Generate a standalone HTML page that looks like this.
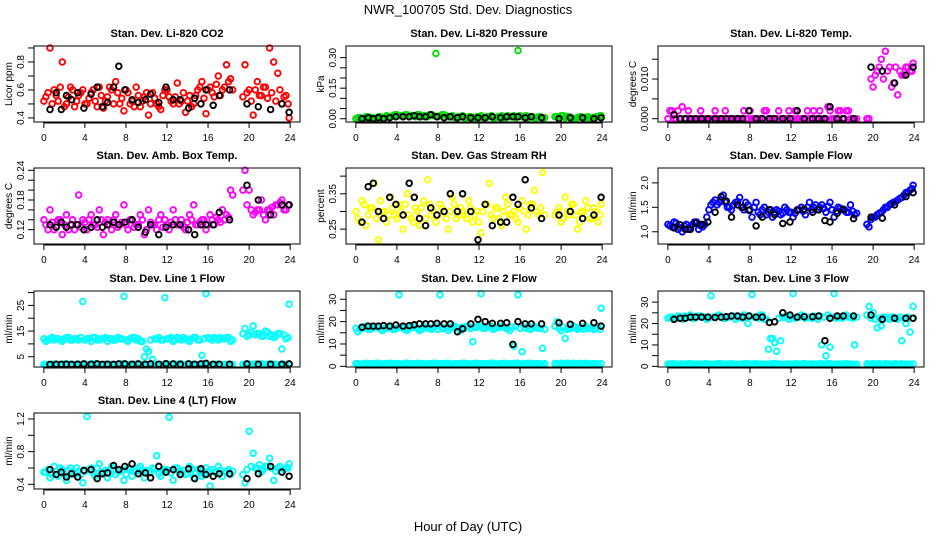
<!DOCTYPE html>
<html><head><meta charset="utf-8"><style>
html,body{margin:0;padding:0;background:#fff;}
svg{display:block;font-family:"Liberation Sans",sans-serif;}
</style></head><body>
<svg id="chart" width="936" height="540" viewBox="0 0 936 540">
<rect width="936" height="540" fill="#fff"/>
<text x="468" y="14" text-anchor="middle" font-size="13">NWR_100705  Std. Dev. Diagnostics</text>
<text x="468" y="531" text-anchor="middle" font-size="13">Hour of Day (UTC)</text>
</svg>
<script>
const hoursC = [0.2,0.6,1.0,1.4,1.8,2.2,2.6,3.0,3.4,3.8,4.2,4.6,5.0,5.4,5.8,6.2,6.6,7.0,7.4,7.8,8.2,8.6,9.0,9.4,9.8,10.2,10.6,11.0,11.4,11.8,12.2,12.6,13.0,13.4,13.8,14.2,14.6,15.0,15.4,15.8,16.2,16.6,17.0,17.4,17.8,18.2,19.6,20.0,20.4,20.8,21.2,21.6,22.0,22.4,22.8,23.2,23.6,23.9];
const hoursC2 = [0.0,0.4,0.8,1.2,1.6,2.0,2.4,2.8,3.2,3.6,4.0,4.4,4.8,5.2,5.6,6.0,6.4,6.8,7.2,7.6,8.0,8.4,8.8,9.2,9.6,10.0,10.4,10.8,11.2,11.6,12.0,12.4,12.8,13.2,13.6,14.0,14.4,14.8,15.2,15.6,16.0,16.4,16.8,17.2,17.6,18.0,18.4,19.4,19.8,20.2,20.6,21.0,21.4,21.8,22.2,22.6,23.0,23.4,23.8];
const hoursB = [0.6,1.2,1.7,2.2,2.7,3.3,3.9,4.6,5.2,5.7,6.2,6.8,7.3,7.9,8.6,9.2,9.9,10.4,11.2,11.9,12.6,13.3,14.1,14.7,15.3,15.8,16.5,17.1,18.1,19.8,20.9,22.1,23.2,23.9];
const xTicks = [0,4,8,12,16,20,24];

const co2Vals = [0.55,0.9,0.6,0.52,0.8,0.5,0.62,0.48,0.56,0.6,0.5,0.58,0.52,0.62,0.47,0.55,0.6,0.66,0.5,0.45,0.58,0.52,0.62,0.48,0.55,0.42,0.58,0.5,0.46,0.6,0.55,0.5,0.65,0.52,0.44,0.56,0.5,0.6,0.66,0.43,0.62,0.55,0.7,0.6,0.78,0.68,0.78,0.6,0.42,0.66,0.56,0.62,0.9,0.8,0.72,0.5,0.56,0.4];
const co2Vals2 = [0.52,0.58,0.5,0.56,0.62,0.48,0.55,0.6,0.52,0.58,0.5,0.54,0.6,0.48,0.56,0.52,0.62,0.5,0.58,0.54,0.6,0.5,0.48,0.56,0.52,0.58,0.5,0.54,0.48,0.56,0.6,0.52,0.55,0.5,0.58,0.52,0.48,0.56,0.62,0.54,0.6,0.58,0.64,0.56,0.62,0.66,0.6,0.55,0.58,0.52,0.6,0.56,0.62,0.54,0.58,0.52,0.6,0.55,0.5];
const co2Black = [0.46,0.58,0.46,0.56,0.53,0.58,0.47,0.57,0.62,0.48,0.51,0.62,0.77,0.6,0.53,0.51,0.53,0.57,0.51,0.62,0.53,0.53,0.47,0.54,0.5,0.6,0.49,0.56,0.6,0.5,0.48,0.46,0.5,0.44];

const presVals = [0.005,0.0,0.01,0.005,0.0,0.01,0.005,0.015,0.01,0.02,0.015,0.01,0.02,0.015,0.01,0.02,0.015,0.01,0.02,0.32,0.015,0.02,0.01,0.015,0.005,0.01,0.005,0.01,0.005,0.01,0.015,0.005,0.01,0.005,0.01,0.015,0.005,0.01,0.015,0.335,0.01,0.015,0.01,0.005,0.01,0.005,0.01,0.015,0.005,0.01,0.0,0.005,0.01,0.005,0.0,0.005,0.01,0.015];
const presVals2 = [0.0,0.005,0.0,0.01,0.005,0.0,0.01,0.005,0.01,0.015,0.02,0.015,0.02,0.01,0.015,0.02,0.01,0.015,0.02,0.015,0.01,0.02,0.015,0.01,0.005,0.01,0.015,0.005,0.01,0.005,0.01,0.005,0.01,0.015,0.005,0.01,0.005,0.015,0.01,0.005,0.015,0.01,0.005,0.01,0.005,0.01,0.005,0.01,0.005,0.015,0.01,0.005,0.0,0.01,0.005,0.01,0.005,0.01,0.015];
const presBlack = [0.0,0.005,0.0,0.005,0.0,0.005,0.01,0.01,0.01,0.015,0.01,0.01,0.02,0.01,0.005,0.01,0.005,0.01,0.005,0.005,0.005,0.01,0.005,0.01,0.01,0.01,0.005,0.01,0.005,0.0,0.005,0.005,0.0,0.005];

const licTempVals = [0.002,0.0,0.002,0.003,0.0,0.0,0.0,0.0,0.0,0.0,0.0,0.002,0.0,0.0,0.0,0.0,0.0,0.0,0.002,0.0,0.0,0.0,0.0,0.002,0.0,0.0,0.0,0.0,0.0,0.002,0.0,0.0,0.0,0.0,0.0,0.002,0.0,0.0,0.0,0.002,0.0,0.002,0.0,0.002,0.0,0.0,0.0,0.008,0.012,0.015,0.017,0.013,0.009,0.006,0.011,0.013,0.012,0.014];
const licTempVals2 = [0.0,0.002,0.0,0.0,0.0,0.002,0.0,0.0,0.002,0.0,0.0,0.0,0.0,0.0,0.002,0.0,0.0,0.0,0.0,0.0,0.002,0.0,0.0,0.0,0.002,0.0,0.0,0.002,0.0,0.0,0.0,0.002,0.0,0.0,0.002,0.0,0.0,0.002,0.0,0.003,0.0,0.0,0.002,0.0,0.002,0.0,0.0,0.0,0.01,0.011,0.013,0.01,0.012,0.008,0.013,0.012,0.011,0.013,0.012];
const licTempBlack = [0.001,0,0,0,0,0,0,0,0,0,0,0,0,0.002,0,0,0,0,0,0,0.002,0,0,0,0,0.003,0,0,0,0.013,0.012,0.009,0.011,0.013];

const ambVals = [0.13,0.16,0.12,0.14,0.11,0.15,0.13,0.12,0.19,0.14,0.12,0.15,0.13,0.16,0.11,0.14,0.12,0.15,0.13,0.17,0.12,0.14,0.13,0.15,0.11,0.16,0.13,0.12,0.15,0.14,0.12,0.16,0.13,0.14,0.12,0.15,0.17,0.13,0.14,0.12,0.15,0.13,0.14,0.16,0.15,0.2,0.24,0.2,0.15,0.16,0.18,0.14,0.16,0.15,0.17,0.18,0.16,0.17];
const ambVals2 = [0.14,0.12,0.135,0.125,0.14,0.13,0.12,0.14,0.13,0.125,0.135,0.14,0.13,0.125,0.14,0.135,0.13,0.14,0.125,0.135,0.13,0.14,0.125,0.13,0.14,0.12,0.135,0.13,0.14,0.125,0.13,0.135,0.14,0.13,0.125,0.135,0.14,0.13,0.135,0.14,0.13,0.14,0.145,0.135,0.14,0.145,0.19,0.2,0.17,0.16,0.155,0.16,0.15,0.16,0.165,0.17,0.175,0.16,0.17];
const ambBlack = [0.13,0.125,0.135,0.125,0.13,0.13,0.12,0.125,0.14,0.125,0.13,0.135,0.13,0.135,0.14,0.125,0.115,0.13,0.11,0.125,0.13,0.13,0.12,0.11,0.13,0.13,0.13,0.155,0.14,0.21,0.18,0.15,0.17,0.17];

const rhVals = [0.28,0.33,0.26,0.31,0.38,0.22,0.3,0.27,0.34,0.29,0.32,0.25,0.35,0.28,0.31,0.26,0.33,0.39,0.29,0.27,0.32,0.3,0.25,0.34,0.28,0.31,0.29,0.33,0.27,0.3,0.24,0.32,0.38,0.28,0.31,0.26,0.34,0.29,0.3,0.27,0.33,0.25,0.32,0.36,0.29,0.41,0.3,0.27,0.34,0.29,0.32,0.25,0.3,0.33,0.28,0.31,0.27,0.32];
const rhVals2 = [0.3,0.27,0.32,0.29,0.31,0.28,0.33,0.3,0.29,0.31,0.28,0.3,0.32,0.29,0.27,0.3,0.31,0.28,0.32,0.3,0.29,0.31,0.28,0.3,0.32,0.29,0.3,0.28,0.31,0.29,0.27,0.3,0.32,0.29,0.31,0.28,0.3,0.32,0.29,0.28,0.31,0.3,0.29,0.32,0.3,0.31,0.29,0.29,0.31,0.28,0.3,0.32,0.29,0.27,0.3,0.31,0.28,0.3,0.29];
const rhBlack = [0.27,0.37,0.38,0.3,0.28,0.34,0.32,0.29,0.38,0.34,0.28,0.26,0.31,0.29,0.3,0.35,0.3,0.35,0.3,0.22,0.32,0.26,0.27,0.27,0.34,0.32,0.39,0.31,0.28,0.29,0.3,0.28,0.29,0.34];

const sampVals = [1.12,1.2,1.05,1.0,1.15,1.1,1.2,1.05,1.1,1.3,1.55,1.65,1.6,1.75,1.5,1.45,1.6,1.7,1.45,1.55,1.3,1.6,1.35,1.5,1.4,1.3,1.45,1.35,1.5,1.4,1.3,1.45,1.5,1.35,1.6,1.5,1.45,1.55,1.4,1.6,1.3,1.5,1.45,1.4,1.55,1.35,1.1,1.3,1.35,1.4,1.5,1.55,1.6,1.65,1.7,1.8,1.85,1.95];
const sampVals2 = [1.15,1.1,1.18,1.08,1.12,1.05,1.15,1.2,1.12,1.15,1.45,1.6,1.55,1.65,1.6,1.5,1.55,1.62,1.5,1.6,1.45,1.5,1.4,1.45,1.35,1.45,1.4,1.42,1.38,1.45,1.4,1.38,1.45,1.42,1.5,1.45,1.55,1.5,1.48,1.52,1.45,1.42,1.48,1.45,1.4,1.42,1.38,1.15,1.25,1.3,1.38,1.45,1.5,1.58,1.62,1.68,1.75,1.8,1.88];
const sampBlack = [1.08,1.14,1.05,1.05,1.18,1.15,1.2,1.4,1.72,1.63,1.3,1.55,1.5,1.44,1.12,1.3,1.45,1.35,1.17,1.2,1.44,1.46,1.4,1.45,1.23,1.2,1.38,1.46,1.27,1.3,1.28,1.55,1.72,1.8];

const l1Vals = [11,12,11.5,12,11,12.5,11.5,12,11.5,26.5,12,11,12.5,11.5,12,11,12,11.5,12,28.5,11,12.5,11.5,11,5,7,4,12,11.5,28,12,11,12.5,11.5,12,11,12.5,11.5,5.5,29.5,12,12.5,11.5,12,12.5,11,16,13.5,17,14,13,15,13,12.5,14,8,12,25.5];
const l1Vals2 = [12,11.5,12.5,12,11.5,12,12.5,11.5,12,12.5,11.5,12,12.5,11.5,12,12.5,12,11.5,12.5,12,11.5,12,12.5,12,11,8,11.5,12,12.5,11.5,12,12.5,11.5,12,12.5,11.5,12,12.5,11.5,12,12.5,11.5,12,12.5,12,12.5,11.5,14,13,14.5,13.5,14,13,14.5,13.5,13,14,13.5,12.5];
const l1Low = [2,1.8,2.1,1.9,2,2.2,1.8,2,2.1,1.9,2,1.8,2.2,2,1.9,2.1,2,1.8,2,2.2,1.9,2,2.1,1.8,2,1.9,2.2,2,1.8,2.1,2,1.9,2,2.2,1.8,2,2.1,1.9,2,2.2,1.8,2,2.1,1.9,2,1.8,2,2.1,1.9,2,2.2,1.8,2,2.1,1.9,2,1.8,2];
const l1Black = [2,2.1,2,2.1,2,2.1,2.2,2.1,2.2,2,2.1,2,2.2,2.2,2.1,2.2,2.1,2.2,2.1,2.3,2.2,2.1,2.2,2.1,2.2,2.4,2.1,2.1,2.1,2.2,2.1,2.1,2.1,2.2];

const l2Vals = [15.5,17,18,16.5,17.5,18,16,17,18,16.5,32,17,16,18,17.5,16,18,17,16.5,18,32,17,16,18,17.5,16,17,18,11,17.5,32.5,17,18,16.5,17.5,18,17,16,9,32,6.5,17,16.5,18,17,8,20,16,12.5,17,18,16.5,17.5,18,17,16.5,18,26];
const l2Vals2 = [17,16.5,17.5,16.5,17,17.5,16.5,17,17.5,16.5,17,17.5,16.5,17,17.5,17,16.5,17.5,17,17.5,16.5,17,17.5,17,18,17,17.5,18,17,17.5,18,17,17.5,18,17,17.5,18,17,17.5,18,17,17.5,18,17,17.5,17,16.5,18,17,17.5,16.5,17,17.5,17,16.5,17,17.5,17,16.5];
const l2Low = [1.2,1.0,1.3,1.1,1.2,1.4,1.0,1.2,1.3,1.1,1.2,1.0,1.4,1.2,1.1,1.3,1.2,1.0,1.2,1.4,1.1,1.2,1.3,1.0,1.2,1.1,1.4,1.2,1.0,1.3,1.2,1.1,1.2,1.4,1.0,1.2,1.3,1.1,1.2,1.4,1.0,1.2,1.3,1.1,1.2,1.0,1.2,1.3,1.1,1.2,1.4,1.0,1.2,1.3,1.1,1.2,1.0,1.2];
const l2Black = [17.5,18,18,18,18.2,18,18.5,18,18.2,18.6,19,19,19,19.2,19,19,15.5,16.8,19,21,20,19.2,19.2,19.5,9.8,20,19,19,19,19.5,18.8,19.2,19.5,18];

const l3Vals = [23,22.5,23.5,22,23,24,22.5,23.5,23,22,33,23,24,22.5,23,23.5,22,23,24,20,33.5,23,24,22,8,13,7,12,23,22,34,23,24,22.5,23,23.5,22,10,5,9,34,23,22.5,24,23,10,28,25,18,19,23,22,23,22,12,20,16,28];
const l3Vals2 = [22.5,23,22.5,23,23.5,23,22.5,23,23.5,23,22.5,23,23.5,23,22.5,23,23.5,23,22.5,23,23.5,23,22.5,24,22,13,11,22.5,23,23.5,23,22.5,23,23.5,23,22.5,23,23.5,23,24,23,22.5,23,23.5,23,22.5,23,24,22.5,22,22.5,23,22.5,23,22.5,23,22.5,23,22.5];
const l3Low = [1.0,1.2,0.9,1.1,1.0,1.3,0.9,1.1,1.0,1.2,1.0,0.9,1.3,1.1,1.0,1.2,1.0,0.9,1.1,1.3,1.0,1.2,1.1,0.9,1.0,1.2,1.3,1.0,0.9,1.1,1.0,1.2,1.0,1.3,0.9,1.1,1.0,1.2,1.0,1.3,0.9,1.1,1.0,1.2,1.0,0.9,1.0,1.2,1.1,1.0,1.3,0.9,1.1,1.0,1.2,1.0,0.9,1.1];
const l3Black = [22,22.5,22.5,23,23,23,23,22.8,23,23.2,23.5,23.5,23,23.5,23,23,20.5,20.8,25,24,23,23.2,23.2,23.5,12,22.5,23.5,23.5,23.5,24,22,22.5,22.5,22.5];

const l4Vals = [0.55,0.48,0.62,0.5,0.58,0.45,0.6,0.52,0.56,0.42,1.23,0.6,0.5,0.65,0.55,0.48,0.62,0.52,0.58,0.45,0.6,0.5,0.56,0.62,0.48,0.55,0.6,0.75,0.5,0.58,1.22,0.45,0.6,0.55,0.52,0.62,0.48,0.58,0.5,0.6,0.38,0.55,0.62,0.5,0.56,0.52,0.42,1.05,0.78,0.6,0.55,0.62,0.72,0.45,0.6,0.55,0.6,0.65];
const l4Vals2 = [0.55,0.58,0.52,0.56,0.6,0.53,0.57,0.55,0.6,0.52,0.56,0.58,0.54,0.6,0.55,0.57,0.53,0.59,0.55,0.57,0.52,0.58,0.56,0.6,0.54,0.57,0.55,0.59,0.53,0.56,0.58,0.54,0.6,0.55,0.57,0.53,0.59,0.55,0.57,0.52,0.56,0.58,0.54,0.57,0.55,0.58,0.56,0.52,0.58,0.62,0.6,0.64,0.58,0.62,0.6,0.56,0.62,0.58,0.6];
const l4Black = [0.58,0.52,0.55,0.49,0.53,0.49,0.57,0.58,0.47,0.53,0.54,0.63,0.58,0.62,0.65,0.53,0.54,0.48,0.62,0.55,0.58,0.52,0.59,0.47,0.59,0.52,0.5,0.53,0.53,0.47,0.53,0.62,0.55,0.5];

const panels = [
 {name:'co2',title:'Stan. Dev. Li-820 CO2',ylab:'Licor ppm',col:0,row:0,ymin:0.371,ymax:0.914,yticks:[0.4,0.5,0.6,0.7,0.8,0.9],ylabels:['0.4','','0.6','','0.8',''],series:[[hoursC,co2Vals,'#ff0000'],[hoursC2,co2Vals2,'#ff0000'],[hoursB,co2Black,'#000']]},
 {name:'pressure',title:'Stan. Dev. Li-820 Pressure',ylab:'kPa',col:1,row:0,ymin:-0.016,ymax:0.357,yticks:[0,0.05,0.1,0.15,0.2,0.25,0.3],ylabels:['0.00','','','0.15','','','0.30'],series:[[hoursC,presVals,'#00dd00'],[hoursC2,presVals2,'#00dd00'],[hoursB,presBlack,'#000']]},
 {name:'licor-temp',title:'Stan. Dev. Li-820 Temp.',ylab:'degrees C',col:2,row:0,ymin:-0.00083,ymax:0.01833,yticks:[0,0.005,0.01,0.015],ylabels:['0.000','','0.010',''],series:[[hoursC,licTempVals,'#ff00ff'],[hoursC2,licTempVals2,'#ff00ff'],[hoursB,licTempBlack,'#000']]},
 {name:'amb-box-temp',title:'Stan. Dev. Amb. Box Temp.',ylab:'degrees C',col:0,row:1,ymin:0.091,ymax:0.2447,yticks:[0.12,0.14,0.16,0.18,0.2,0.22,0.24],ylabels:['0.12','','','0.18','','','0.24'],series:[[hoursC,ambVals,'#ff00ff'],[hoursC2,ambVals2,'#ff00ff'],[hoursB,ambBlack,'#000']]},
 {name:'gas-stream-rh',title:'Stan. Dev. Gas Stream RH',ylab:'percent',col:1,row:1,ymin:0.208,ymax:0.423,yticks:[0.25,0.3,0.35,0.4],ylabels:['0.25','','0.35',''],series:[[hoursC,rhVals,'#ffff00'],[hoursC2,rhVals2,'#ffff00'],[hoursB,rhBlack,'#000']]},
 {name:'sample-flow',title:'Stan. Dev. Sample Flow',ylab:'ml/min',col:2,row:1,ymin:0.75,ymax:2.304,yticks:[1.0,1.5,2.0],ylabels:['1.0','1.5','2.0'],series:[[hoursC,sampVals,'#0000ff'],[hoursC2,sampVals2,'#0000ff'],[hoursB,sampBlack,'#000']]},
 {name:'line1-flow',title:'Stan. Dev. Line 1 Flow',ylab:'ml/min',col:0,row:2,ymin:1.0,ymax:30.6,yticks:[5,10,15,20,25,30],ylabels:['5','','15','','25',''],series:[[hoursC,l1Vals,'#00ffff'],[hoursC2,l1Vals2,'#00ffff'],[hoursC,l1Low,'#00ffff'],[hoursC2,l1Low,'#00ffff'],[hoursB,l1Black,'#000']]},
 {name:'line2-flow',title:'Stan. Dev. Line 2 Flow',ylab:'ml/min',col:1,row:2,ymin:-0.3,ymax:33.7,yticks:[0,5,10,15,20,25,30],ylabels:['0','','10','','20','','30'],series:[[hoursC,l2Vals,'#00ffff'],[hoursC2,l2Vals2,'#00ffff'],[hoursC,l2Low,'#00ffff'],[hoursC2,l2Low,'#00ffff'],[hoursB,l2Black,'#000']]},
 {name:'line3-flow',title:'Stan. Dev. Line 3 Flow',ylab:'ml/min',col:2,row:2,ymin:-0.3,ymax:35.2,yticks:[0,5,10,15,20,25,30],ylabels:['0','','10','','20','','30'],series:[[hoursC,l3Vals,'#00ffff'],[hoursC2,l3Vals2,'#00ffff'],[hoursC,l3Low,'#00ffff'],[hoursC2,l3Low,'#00ffff'],[hoursB,l3Black,'#000']]},
 {name:'line4-flow',title:'Stan. Dev. Line 4 (LT) Flow',ylab:'ml/min',col:0,row:3,ymin:0.343,ymax:1.273,yticks:[0.4,0.6,0.8,1.0,1.2],ylabels:['0.4','','0.8','','1.2'],series:[[hoursC,l4Vals,'#00ffff'],[hoursC2,l4Vals2,'#00ffff'],[hoursB,l4Black,'#000']]}
];

const NS='http://www.w3.org/2000/svg';
const svg=document.getElementById('chart');
function mk(tag,attrs,parent){const e=document.createElementNS(NS,tag);for(const k in attrs)e.setAttribute(k,attrs[k]);parent.appendChild(e);return e;}
const rowTops=[46,168,291,413];
panels.forEach(p=>{
  const L=34+312*p.col, R=L+266, T=rowTops[p.row], B=T+76;
  const xs=h=>L+(R-L)*(h+0.96)/25.92;
  const ys=v=>B-(B-T)*(v-p.ymin)/(p.ymax-p.ymin);
  const g=mk('g',{},svg);
  
  
  const t=mk('text',{x:(L+R)/2,y:T-9,'text-anchor':'middle','font-size':11,'font-weight':'bold'},g);
  t.textContent=p.title;
  
  
  const pts=mk('g',{fill:'none','stroke-width':1.9},g);
  
  
  p.series.forEach(s=>{
    const n=Math.min(s[0].length,s[1].length);
    for(let i=0;i<n;i++){
      const c=mk('circle',{cx:xs(s[0][i]).toFixed(1),cy:ys(s[1][i]).toFixed(1),r:2.8,stroke:s[2]},pts);
      
      
    }
  });
  const box=mk('rect',{x:L,y:T,width:R-L,height:B-T,fill:'none',stroke:'#000','stroke-width':1},g);
  
  
  const xa=mk('g',{},g);
  
  
  mk('line',{x1:xs(0),x2:xs(24),y1:B+1,y2:B+1,stroke:'#000'},xa);
  xTicks.forEach(v=>{
    mk('line',{x1:xs(v),x2:xs(v),y1:B,y2:B+6,stroke:'#000'},xa);
    const tl=mk('text',{x:xs(v),y:B+19,'text-anchor':'middle','font-size':10},xa);
    tl.textContent=String(v);
  });
  const ya=mk('g',{},g);
  
  
  p.yticks.forEach((v,i)=>{
    const y=ys(v);
    mk('line',{x1:L-6,x2:L,y1:y,y2:y,stroke:'#000'},ya);
    if(p.ylabels[i]){
      const tl=mk('text',{x:L-10,y:y,'text-anchor':'middle','font-size':10,transform:`rotate(-90 ${L-10} ${y})`},ya);
      tl.textContent=p.ylabels[i];
    }
  });
  const yl=mk('text',{x:L-22,y:(T+B)/2,'text-anchor':'middle','font-size':10,transform:`rotate(-90 ${L-22} ${(T+B)/2})`},g);
  yl.textContent=p.ylab;
  
  
});
</script>
</body></html>
